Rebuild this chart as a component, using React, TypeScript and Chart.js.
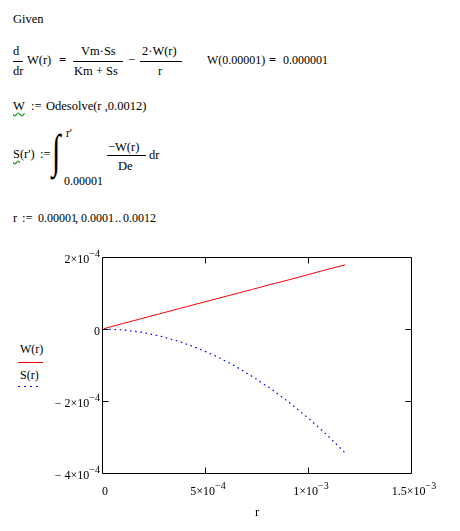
import React, { useEffect, useRef } from "react";
import { Chart, registerables } from "chart.js";

Chart.register(...registerables);

// ---- data ----
const rValues = [0.00001, 0.0001, 0.00019, 0.00028, 0.00037, 0.00046, 0.00055, 0.00064, 0.00073, 0.00082, 0.00091, 0.001, 0.00109, 0.00118];
const wValues = [0.000001, 0.000015, 0.0000287, 0.0000423, 0.0000559, 0.0000695, 0.000083, 0.0000966, 0.00011, 0.000124, 0.000137, 0.000151, 0.000165, 0.000178];
const sValues = [0, -0.0000025, -0.0000089, -0.0000194, -0.0000338, -0.0000523, -0.0000747, -0.000101, -0.000132, -0.000166, -0.000205, -0.000247, -0.000293, -0.000344];
const xTicks = [0, 0.0005, 0.001, 0.0015];
const yTicks = [-0.0004, -0.0002, 0, 0.0002];
const xLabel = "r";
const legendLabels = ["W(r)", "S(r)"];

const FONT = "'Liberation Serif', 'Times New Roman', serif";
const FS = 12.5;
const NUM = 12;

function fmt(v: number) {
  if (Math.abs(v) < 1e-12) return { sign: "", base: "0", exp: "" };
  const a = Math.abs(v);
  const e = Math.floor(Math.log10(a) + 1e-9);
  const m = Math.round((a / Math.pow(10, e)) * 10) / 10;
  return { sign: v < 0 ? "\u2212 " : "", base: `${m}\u00d710`, exp: e < 0 ? `\u2212${-e}` : `${e}` };
}

const framePlugin = {
  id: "mathcadFrame",
  beforeDatasetsDraw(chart: any) {
    const { ctx, chartArea: a, scales } = chart;
    const x = scales.x, y = scales.y;
    ctx.save();
    ctx.strokeStyle = "#000";
    ctx.lineWidth = 1;
    const L = Math.round(a.left) + 0.5, R = Math.round(a.right) + 0.5;
    const T = Math.round(a.top) + 0.5, B = Math.round(a.bottom) + 0.5;
    ctx.beginPath();
    ctx.rect(L, T, R - L, B - T);
    const tl = 6;
    xTicks.forEach((v, i) => {
      if (i === 0 || i === xTicks.length - 1) return;
      const px = Math.round(x.getPixelForValue(v)) + 0.5;
      ctx.moveTo(px, T); ctx.lineTo(px, T + tl);
      ctx.moveTo(px, B); ctx.lineTo(px, B - tl);
    });
    yTicks.forEach((v, i) => {
      if (i === 0 || i === yTicks.length - 1) return;
      const py = Math.round(y.getPixelForValue(v)) + 0.5;
      ctx.moveTo(L, py); ctx.lineTo(L + tl, py);
      ctx.moveTo(R, py); ctx.lineTo(R - tl, py);
    });
    ctx.stroke();
    ctx.restore();
  },
  afterDraw(chart: any) {
    const { ctx, scales } = chart;
    const x = scales.x, y = scales.y;
    const baseFont = `12px ${FONT}`;
    const expFont = `10px ${FONT}`;
    ctx.save();
    ctx.fillStyle = "#000";
    ctx.textBaseline = "alphabetic";
    ctx.textAlign = "left";
    const measure = (f: any) => {
      ctx.font = baseFont;
      const sw = ctx.measureText(f.sign).width;
      const bw = ctx.measureText(f.base).width;
      ctx.font = expFont;
      const ew = f.exp ? ctx.measureText(f.exp).width : 0;
      return { sw, bw, ew };
    };
    const draw = (f: any, sx: number, baseY: number, m: any) => {
      ctx.font = baseFont;
      ctx.fillText(f.sign, sx, baseY);
      ctx.fillText(f.base, sx + m.sw, baseY);
      if (f.exp) {
        ctx.font = expFont;
        ctx.fillText(f.exp, sx + m.sw + m.bw, baseY - 6);
      }
    };
    yTicks.forEach((v) => {
      const f = fmt(v);
      const m = measure(f);
      const py = y.getPixelForValue(v);
      const right = x.left - 2;
      draw(f, right - (m.sw + m.bw + m.ew), py + 6, m);
    });
    xTicks.forEach((v) => {
      const f = fmt(v);
      const m = measure(f);
      const px = x.getPixelForValue(v);
      const w = m.sw + m.bw + m.ew;
      draw(f, px + 3 - w / 2, y.bottom + 22, m);
    });
    ctx.font = `${FS}px ${FONT}`;
    ctx.textAlign = "center";
    ctx.fillText(xLabel, (x.left + x.right) / 2 + 0.5, y.bottom + 43);
    ctx.restore();
  },
};

function T({ x, y, children, style, size }: { x: number; y: number; children?: any; style?: any; size?: number }) {
  return (
    <span
      style={{
        position: "absolute",
        left: x,
        top: y - 11,
        lineHeight: "13px",
        fontSize: size ?? FS,
        fontFamily: FONT,
        whiteSpace: "pre",
        color: "#000",
        ...style,
      }}
    >
      {children}
    </span>
  );
}

function HLine({ x, y, w, color = "#000" }: { x: number; y: number; w: number; color?: string }) {
  return <div style={{ position: "absolute", left: x, top: y, width: w, height: 1, background: color }} />;
}

const wavy = {
  textDecorationLine: "underline",
  textDecorationStyle: "wavy",
  textDecorationColor: "#2a9a2a",
  textUnderlineOffset: "2px",
};

const bold = { fontWeight: "bold" };

export default function App() {
  const ref = useRef<HTMLCanvasElement | null>(null);
  useEffect(() => {
    if (!ref.current) return;
    const chart = new Chart(ref.current, {
      type: "line",
      data: {
        datasets: [
          {
            label: legendLabels[0],
            data: rValues.map((r, i) => ({ x: r, y: wValues[i] })),
            borderColor: "#ff0000",
            borderWidth: 1,
            pointRadius: 0,
            tension: 0,
          },
          {
            label: legendLabels[1],
            data: rValues.map((r, i) => ({ x: r, y: sValues[i] })),
            borderColor: "#0000ff",
            borderWidth: 1.2,
            borderDash: [1.6, 3.6],
            pointRadius: 0,
            tension: 0,
          },
        ],
      },
      options: {
        animation: false,
        responsive: false,
        maintainAspectRatio: false,
        devicePixelRatio: 1,
        layout: { padding: { left: 102, right: 49, top: 17, bottom: 58 } },
        plugins: { legend: { display: false }, tooltip: { enabled: false } },
        events: [],
        scales: {
          x: { type: "linear", display: false, min: xTicks[0], max: xTicks[xTicks.length - 1] },
          y: { type: "linear", display: false, min: yTicks[0], max: yTicks[yTicks.length - 1] },
        },
      },
      plugins: [framePlugin],
    } as any);
    return () => chart.destroy();
  }, []);

  return (
    <div style={{ position: "absolute", left: 0, top: 0, width: 460, height: 531, background: "#fff", overflow: "hidden" }}>
      <T x={13} y={24}>Given</T>

      {/* d/dr W(r) = Vm·Ss/(Km + Ss) − 2·W(r)/r */}
      <T x={13} y={56}>d</T>
      <HLine x={13} y={61} w={10} />
      <T x={13} y={76}>dr</T>
      <T x={27} y={65}>W(r)</T>
      <T x={59} y={65} style={bold}>=</T>
      <T x={81} y={56}>Vm·Ss</T>
      <HLine x={73} y={61} w={50} />
      <T x={74} y={76}>Km + Ss</T>
      <T x={128} y={65}>−</T>
      <T x={142} y={56}>2·W(r)</T>
      <HLine x={140} y={61} w={42} />
      <T x={158} y={76}>r</T>
      <T x={207} y={65} size={NUM}>W(0.00001)</T>
      <T x={269} y={65} style={bold}>=</T>
      <T x={283} y={65} size={NUM}>0.000001</T>

      <T x={13} y={111}>
        <span style={wavy}>W</span>
      </T>
      <T x={31} y={111}>:=</T>
      <T x={46} y={111}>Odesolve(r ,0.0012)</T>

      {/* S(r') := ∫ −W(r)/De dr */}
      <T x={13} y={159}>
        <span style={wavy}>S</span>(r')
      </T>
      <T x={40} y={159}>:=</T>
      <span
        style={{
          position: "absolute",
          left: 52,
          top: 122,
          fontFamily: FONT,
          fontSize: 47,
          lineHeight: "58px",
          color: "#000",
          transform: "scaleX(0.65)",
          transformOrigin: "left top",
        }}
      >
        ∫
      </span>
      <T x={66} y={138} size={11.5}>r'</T>
      <T x={64} y={186} size={NUM}>0.00001</T>
      <T x={108} y={152}>−W(r)</T>
      <HLine x={107} y={155} w={39} />
      <T x={118} y={171}>De</T>
      <T x={149} y={160}>dr</T>

      <T x={13} y={223}>r</T>
      <T x={22} y={223}>:=</T>
      <T x={38} y={223} size={NUM}>0.00001</T>
      <T x={75} y={223}>,</T>
      <T x={81} y={223} size={NUM}>0.0001</T>
      <T x={115} y={223}>..</T>
      <T x={123} y={223} size={NUM}>0.0012</T>

      {/* legend */}
      <T x={20} y={354} size={12}>{legendLabels[0]}</T>
      <HLine x={18} y={362} w={25} color="#ff0000" />
      <T x={20} y={380} size={12}>{legendLabels[1]}</T>
      <div
        style={{
          position: "absolute",
          left: 18,
          top: 386,
          width: 21,
          height: 1,
          background: "repeating-linear-gradient(to right, #0000ff 0 2px, transparent 2px 6px)",
        }}
      />

      <canvas ref={ref} width={460} height={291} style={{ position: "absolute", left: 0, top: 240, width: 460, height: 291 }} />
    </div>
  );
}
